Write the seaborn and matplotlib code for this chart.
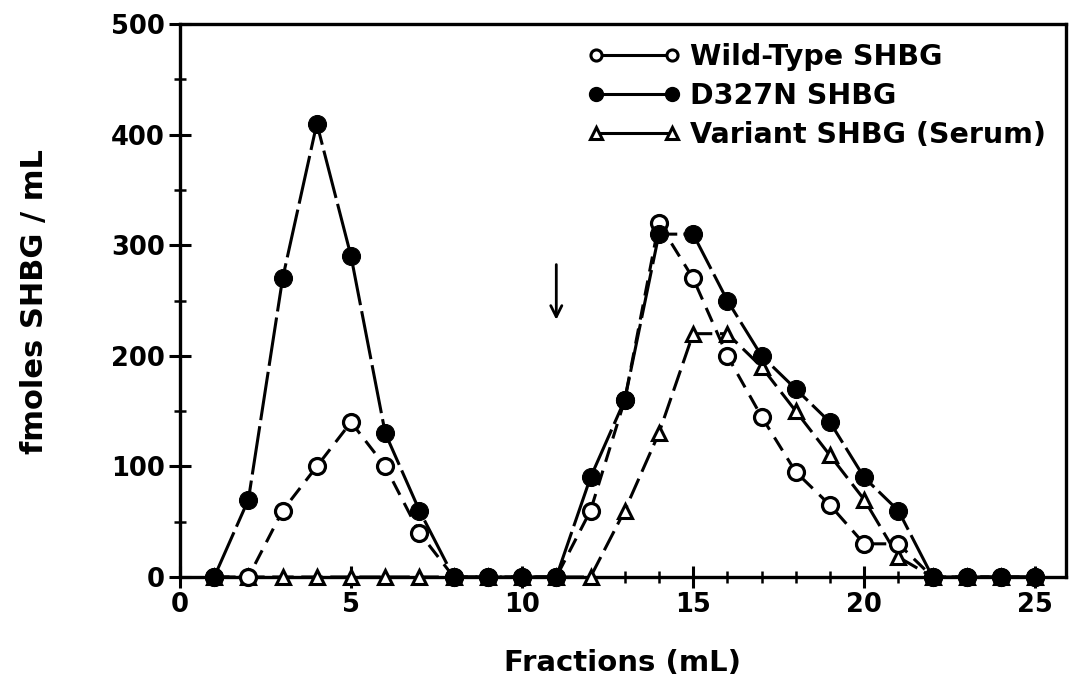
import numpy as np
import pandas as pd
import matplotlib
matplotlib.use("Agg")
import matplotlib.pyplot as plt
import seaborn as sns
from matplotlib.lines import Line2D
from matplotlib.ticker import MultipleLocator

fractions = list(range(1, 26))
wild_type = [0, 0, 60, 100, 140, 100, 40, 0, 0, 0, 0, 60, 160, 320, 270, 200, 145, 95, 65, 30, 30, 0, 0, 0, 0]
d327n = [0, 70, 270, 410, 290, 130, 60, 0, 0, 0, 0, 90, 160, 310, 310, 250, 200, 170, 140, 90, 60, 0, 0, 0, 0]
variant = [0, 0, 0, 0, 0, 0, 0, 0, 0, 0, 0, 0, 60, 130, 220, 220, 190, 150, 110, 70, 18, 0, 0, 0, 0]
labels = ["Wild-Type SHBG", "D327N SHBG", "Variant SHBG (Serum)"]

sns.set_theme(style="white")
plt.rcParams['font.family'] = ['DejaVu Sans']
plt.rcParams['font.weight'] = 'bold'
plt.rcParams['text.color'] = 'black'
plt.rcParams['axes.labelcolor'] = 'black'
plt.rcParams['xtick.color'] = 'black'
plt.rcParams['ytick.color'] = 'black'

fig = plt.figure(figsize=(10.7, 6.98), dpi=100)
L, R, B, T = 180 / 1070, 1066 / 1070, 1 - 577 / 698, 1 - 24 / 698
ax = fig.add_axes([L, B, R - L, T - B])

lw = 2.2
# variant (triangles, dashed)
sns.lineplot(x=fractions, y=variant, ax=ax, color="black", lw=lw,
             linestyle=(0, (7, 2.5)), marker="^", markersize=10,
             markerfacecolor="white", markeredgecolor="black", markeredgewidth=2.2,
             clip_on=False, zorder=3)
# wild type (open circles, dashed)
sns.lineplot(x=fractions, y=wild_type, ax=ax, color="black", lw=lw,
             linestyle=(0, (5, 3)), marker="o", markersize=11.5,
             markerfacecolor="white", markeredgecolor="black", markeredgewidth=2.3,
             clip_on=False, zorder=4)
# D327N (filled circles, long dash)
sns.lineplot(x=fractions, y=d327n, ax=ax, color="black", lw=lw,
             linestyle=(0, (16, 2)), marker="o", markersize=13,
             markerfacecolor="black", markeredgecolor="black",
             clip_on=False, zorder=5)

ax.set_xlim(0, 25.9)
ax.set_ylim(0, 500)
ax.xaxis.set_major_locator(MultipleLocator(5))
ax.xaxis.set_minor_locator(MultipleLocator(1))
ax.yaxis.set_major_locator(MultipleLocator(100))
ax.yaxis.set_minor_locator(MultipleLocator(50))

for s in ["left", "bottom", "top", "right"]:
    ax.spines[s].set_visible(True)
    ax.spines[s].set_linewidth(2.4)
    ax.spines[s].set_color("black")

ax.tick_params(axis="both", which="major", direction="inout", length=16, width=2.2,
               labelsize=18.5, colors="black", bottom=True, left=True,
               top=False, right=False, pad=3)
ax.tick_params(axis="both", which="minor", direction="inout", length=8, width=1.8,
               bottom=True, left=True, top=False, right=False)
for lab in ax.get_xticklabels() + ax.get_yticklabels():
    lab.set_fontweight("bold")

ax.set_xlabel("Fractions (mL)", fontsize=21, fontweight="bold", color="black")
ax.xaxis.set_label_coords((623 - 180) / 886, -(663 - 577) / 553)
ax.xaxis.label.set_va("center")
ax.set_ylabel("fmoles SHBG / mL", fontsize=22, fontweight="bold", color="black")
ax.yaxis.set_label_coords(-(180 - 35) / 886, (577 - 302) / 553)
ax.yaxis.label.set_va("center")

# arrow at fraction 11
ax.annotate("", xy=(11, 230), xytext=(11, 285),
            arrowprops=dict(arrowstyle="->", lw=2, color="black", mutation_scale=20))

handles = [
    Line2D([], [], color="black", lw=2.2, marker="o", markersize=8,
           markerfacecolor="white", markeredgewidth=2.2),
    Line2D([], [], color="black", lw=2.2, marker="o", markersize=10,
           markerfacecolor="black"),
    Line2D([], [], color="black", lw=2.2, marker="^", markersize=8,
           markerfacecolor="white", markeredgewidth=2.2),
]
leg = ax.legend(handles, labels, loc="upper left",
                bbox_to_anchor=((587 - 180) / 886, (577 - 43) / 553),
                frameon=False, numpoints=2, handlelength=3.3, handletextpad=0.3,
                labelspacing=0.38, borderaxespad=0.0, borderpad=0.0,
                prop={"size": 20.5, "weight": "bold"})
for t in leg.get_texts():
    t.set_color("black")

fig.savefig("out.png", dpi=100, facecolor="white")
